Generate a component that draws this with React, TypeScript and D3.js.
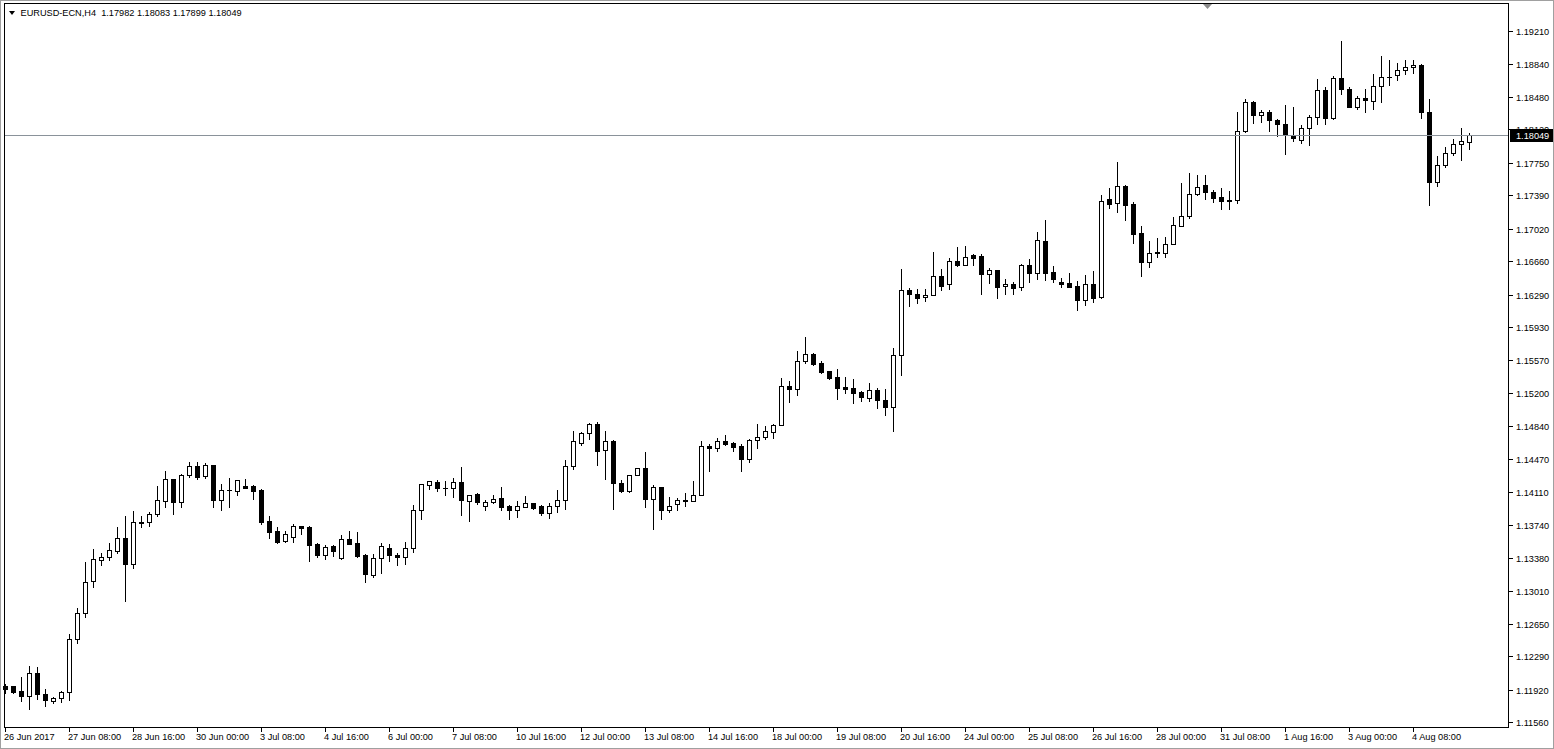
import React from 'react';
import * as d3 from 'd3';

const TITLE = 'EURUSD-ECN,H4  1.17982 1.18083 1.17899 1.18049';
const LAST_PRICE = 1.18049;

const opens = [
1.11962,1.11965,1.11906,1.11848,1.12102,1.11873,1.11799,1.11826,1.11892,1.12478,
1.12765,1.13119,1.13352,1.13385,1.13458,1.13595,1.13307,1.13775,1.13778,1.13860,
1.14011,1.14247,1.14000,1.14291,1.14391,1.14280,1.14402,1.14015,1.14126,1.14115,
1.14170,1.14170,1.14126,1.13783,1.13676,1.13562,1.13606,1.13731,1.13720,1.13528,
1.13413,1.13510,1.13380,1.13584,1.13543,1.13410,1.13189,1.13374,1.13488,1.13410,
1.13385,1.13484,1.13904,1.14188,1.14214,1.14151,1.14148,1.14214,1.14011,1.14081,
1.13955,1.14000,1.14037,1.13952,1.13911,1.13944,1.13982,1.13952,1.13878,1.13949,
1.14015,1.14391,1.14645,1.14756,1.14855,1.14568,1.14667,1.14203,1.14115,1.14291,
1.14369,1.14026,1.14159,1.13904,1.13971,1.14018,1.14004,1.14070,1.14615,1.14590,
1.14667,1.14645,1.14615,1.14475,1.14679,1.14712,1.14767,1.14844,1.15276,1.15249,
1.15552,1.15630,1.15530,1.15442,1.15375,1.15268,1.15257,1.15209,1.15143,1.15231,
1.15121,1.15043,1.15618,1.16337,1.16296,1.16260,1.16282,1.16495,1.16404,1.16658,
1.16614,1.16724,1.16717,1.16521,1.16558,1.16381,1.16404,1.16370,1.16614,1.16532,
1.16882,1.16540,1.16426,1.16415,1.16381,1.16227,1.16404,1.16260,1.17343,1.17299,
1.17487,1.17288,1.16967,1.16647,1.16746,1.16753,1.16846,1.17052,1.17162,1.17405,
1.17498,1.17421,1.17366,1.17321,1.17332,1.18102,1.18416,1.18272,1.18306,1.18220,
1.18173,1.18051,1.17996,1.18129,1.18250,1.18549,1.18246,1.18681,1.18560,1.18361,
1.18460,1.18427,1.18593,1.18693,1.18715,1.18770,1.18803,1.18829,1.18306,1.17538,
1.17723,1.17859,1.17952,1.17982];

const highs = [
1.11995,1.11973,1.12075,1.12194,1.12183,1.11939,1.11851,1.11917,1.12544,1.12832,
1.13344,1.13484,1.13440,1.13551,1.13731,1.13852,1.13908,1.13852,1.13897,1.14184,
1.14350,1.14258,1.14317,1.14450,1.14450,1.14435,1.14413,1.14206,1.14269,1.14240,
1.14258,1.14192,1.14148,1.13852,1.13731,1.13687,1.13767,1.13742,1.13742,1.13554,
1.13528,1.13532,1.13642,1.13687,1.13676,1.13432,1.13432,1.13554,1.13546,1.13447,
1.13565,1.13974,1.14195,1.14240,1.14251,1.14240,1.14273,1.14394,1.14085,1.14107,
1.14026,1.14085,1.14173,1.13974,1.14018,1.14074,1.13993,1.13971,1.13993,1.14140,
1.14472,1.14792,1.14781,1.14881,1.14892,1.14792,1.14690,1.14247,1.14291,1.14383,
1.14557,1.14195,1.14170,1.14059,1.14048,1.14103,1.14236,1.14679,1.14645,1.14712,
1.14748,1.14667,1.14645,1.14701,1.14866,1.14844,1.14866,1.15378,1.15345,1.15677,
1.15832,1.15652,1.15566,1.15456,1.15481,1.15390,1.15371,1.15235,1.15323,1.15271,
1.15257,1.15710,1.16584,1.16374,1.16359,1.16359,1.16772,1.16580,1.16705,1.16827,
1.16835,1.16746,1.16750,1.16595,1.16560,1.16473,1.16443,1.16636,1.16691,1.16993,
1.17126,1.16614,1.16481,1.16536,1.16448,1.16514,1.16562,1.17402,1.17476,1.17764,
1.17509,1.17325,1.17059,1.16890,1.16927,1.16938,1.17159,1.17535,1.17645,1.17623,
1.17620,1.17454,1.17476,1.17450,1.18320,1.18464,1.18442,1.18342,1.18342,1.18243,
1.18394,1.18375,1.18173,1.18287,1.18681,1.18593,1.18715,1.19105,1.18593,1.18494,
1.18571,1.18737,1.18939,1.18892,1.18858,1.18892,1.18892,1.18847,1.18460,1.17830,
1.17930,1.18018,1.18140,1.18083];

const lows = [
1.11884,1.11887,1.11799,1.11704,1.11815,1.11744,1.11777,1.11788,1.11807,1.12434,
1.12728,1.13053,1.13303,1.13358,1.13436,1.12905,1.13270,1.13723,1.13731,1.13845,
1.13944,1.13864,1.13944,1.14269,1.14251,1.14265,1.13944,1.13908,1.13944,1.14077,
1.14148,1.14033,1.13756,1.13602,1.13540,1.13557,1.13551,1.13642,1.13347,1.13391,
1.13366,1.13402,1.13369,1.13528,1.13388,1.13115,1.13170,1.13214,1.13344,1.13296,
1.13307,1.13440,1.13805,1.14143,1.14121,1.14077,1.14055,1.13856,1.13789,1.13971,
1.13911,1.13988,1.13911,1.13811,1.13834,1.13944,1.13922,1.13856,1.13823,1.13889,
1.13922,1.14361,1.14623,1.14696,1.14409,1.14254,1.13916,1.14103,1.14103,1.14291,
1.13944,1.13694,1.13811,1.13882,1.13904,1.13955,1.14004,1.14070,1.14342,1.14564,
1.14630,1.14564,1.14342,1.14442,1.14593,1.14696,1.14707,1.14844,1.15105,1.15183,
1.15537,1.15514,1.15426,1.15356,1.15139,1.15205,1.15094,1.15116,1.15116,1.15039,
1.14955,1.14785,1.15404,1.16167,1.16193,1.16222,1.16282,1.16341,1.16355,1.16609,
1.16614,1.16620,1.16300,1.16421,1.16255,1.16300,1.16300,1.16344,1.16426,1.16465,
1.16454,1.16426,1.16377,1.16377,1.16123,1.16171,1.16211,1.16255,1.17251,1.17206,
1.17118,1.16860,1.16499,1.16592,1.16709,1.16709,1.16846,1.17045,1.17140,1.17394,
1.17343,1.17310,1.17233,1.17233,1.17306,1.18084,1.18191,1.18195,1.18102,1.18047,
1.17848,1.17985,1.17963,1.17941,1.18173,1.18179,1.18228,1.18505,1.18361,1.18339,
1.18306,1.18339,1.18423,1.18604,1.18663,1.18726,1.18737,1.18246,1.17280,1.17494,
1.17704,1.17837,1.17781,1.17899];

const closes = [
1.11928,1.11899,1.11848,1.12102,1.11870,1.11803,1.11826,1.11892,1.12478,1.12765,
1.13108,1.13363,1.13385,1.13462,1.13595,1.13307,1.13772,1.13761,1.13860,1.14015,
1.14247,1.14000,1.14295,1.14391,1.14276,1.14402,1.14022,1.14126,1.14130,1.14236,
1.14154,1.14121,1.13778,1.13668,1.13557,1.13639,1.13728,1.13712,1.13524,1.13413,
1.13499,1.13458,1.13584,1.13535,1.13399,1.13197,1.13374,1.13510,1.13407,1.13385,
1.13488,1.13904,1.14190,1.14225,1.14148,1.14148,1.14214,1.14015,1.14070,1.14000,
1.13993,1.14026,1.13944,1.13911,1.13949,1.13982,1.13933,1.13878,1.13949,1.14015,
1.14391,1.14667,1.14756,1.14855,1.14564,1.14667,1.14203,1.14115,1.14291,1.14369,
1.14026,1.14159,1.13904,1.13955,1.14015,1.14004,1.14070,1.14612,1.14590,1.14667,
1.14641,1.14608,1.14475,1.14682,1.14712,1.14781,1.14844,1.15276,1.15249,1.15552,
1.15633,1.15526,1.15437,1.15371,1.15260,1.15249,1.15205,1.15154,1.15231,1.15121,
1.15043,1.15618,1.16337,1.16300,1.16255,1.16285,1.16495,1.16388,1.16658,1.16620,
1.16702,1.16698,1.16521,1.16558,1.16377,1.16404,1.16366,1.16614,1.16532,1.16890,
1.16532,1.16465,1.16410,1.16377,1.16227,1.16404,1.16255,1.17328,1.17295,1.17487,
1.17284,1.16963,1.16645,1.16746,1.16757,1.16846,1.17056,1.17156,1.17405,1.17476,
1.17421,1.17361,1.17321,1.17339,1.18102,1.18416,1.18272,1.18309,1.18220,1.18173,
1.18051,1.18018,1.18129,1.18250,1.18549,1.18246,1.18681,1.18560,1.18361,1.18460,
1.18438,1.18593,1.18693,1.18697,1.18770,1.18803,1.18829,1.18306,1.17538,1.17726,
1.17859,1.17952,1.17985,1.18049];

const yTickValues = [
1.19210,1.18840,1.18480,1.18120,1.17750,1.17390,1.17020,1.16660,1.16290,1.15930,
1.15570,1.15200,1.14840,1.14470,1.14110,1.13740,1.13380,1.13010,1.12650,1.12290,
1.11920,1.11560];

const xLabels = [
'26 Jun 2017','27 Jun 08:00','28 Jun 16:00','30 Jun 00:00','3 Jul 08:00','4 Jul 16:00',
'6 Jul 00:00','7 Jul 08:00','10 Jul 16:00','12 Jul 00:00','13 Jul 08:00','14 Jul 16:00',
'18 Jul 00:00','19 Jul 08:00','20 Jul 16:00','24 Jul 00:00','25 Jul 08:00','26 Jul 16:00',
'28 Jul 00:00','31 Jul 08:00','1 Aug 16:00','3 Aug 00:00','4 Aug 08:00'];
const xLabelBars = [0,8,16,24,32,40,48,56,64,72,80,88,96,104,112,120,128,136,144,152,160,168,176];

const FONT = "'Liberation Sans', Arial, sans-serif";

export default function App() {
  const W = 1554, H = 749;
  const plotL = 4, plotR = 1508, plotT = 3, plotB = 727;
  const n = opens.length;
  const x = d3.scaleLinear().domain([0, n - 1]).range([5, 5 + (n - 1) * 8]);
  const y = d3.scaleLinear().domain([1.11560, 1.19210]).range([722.3, 30.5]);
  const py = (p: number) => Math.round(y(p)) + 0.5;

  const candles = d3.range(n).map((i) => {
    const cx = Math.round(x(i)) + 0.5;
    const o = py(opens[i]), c = py(closes[i]), h = py(highs[i]), l = py(lows[i]);
    const bull = closes[i] >= opens[i];
    const top = Math.min(o, c), bot = Math.max(o, c);
    return (
      <g key={i}>
        <line x1={cx} x2={cx} y1={h} y2={top} stroke="#000" />
        <line x1={cx} x2={cx} y1={bot} y2={l} stroke="#000" />
        {bot - top < 1 ? (
          <line x1={cx - 2.5} x2={cx + 2.5} y1={top} y2={top} stroke="#000" />
        ) : (
          <rect x={cx - 2} y={top} width={4} height={bot - top}
            fill={bull ? '#fff' : '#000'} stroke="#000" />
        )}
      </g>
    );
  });

  const lastY = py(LAST_PRICE);

  return (
    <svg width={W} height={H} style={{ position: 'absolute', left: 0, top: 0, background: '#fff' }}
      shapeRendering="crispEdges" fontFamily={FONT}>
      <rect x={0.5} y={0.5} width={W - 1} height={H - 1} fill="#fff" stroke="#a0a0a0" />
      <rect x={plotL + 0.5} y={plotT + 0.5} width={plotR - plotL} height={plotB - plotT} fill="#fff" stroke="#000" />
      <g>{candles}</g>
      <line x1={plotL + 1} x2={plotR} y1={lastY} y2={lastY} stroke="#8a929a" />
      <polygon points={`1203,${plotT + 1} 1212,${plotT + 1} 1207.5,${plotT + 6}`} fill="#8c8c8c" shapeRendering="auto" />
      {/* title */}
      <polygon points="9,11 15,11 12,15" fill="#000" shapeRendering="auto" />
      <text x={20.5} y={16} fontSize={9.2} fill="#000" style={{ whiteSpace: 'pre' }} xmlSpace="preserve">{TITLE}</text>
      {/* y axis */}
      {yTickValues.map((v) => {
        const ty = py(v);
        return (
          <g key={v}>
            <line x1={plotR + 1} x2={plotR + 5} y1={ty} y2={ty} stroke="#000" />
            <text x={1516} y={ty + 3.3} fontSize={9.2} fill="#000">{v.toFixed(5)}</text>
          </g>
        );
      })}
      <rect x={1510} y={lastY - 6.5} width={43} height={13} fill="#000" />
      <text x={1516} y={lastY + 3.3} fontSize={9.2} fill="#fff">{LAST_PRICE.toFixed(5)}</text>
      {/* x axis */}
      {xLabelBars.map((b, k) => {
        const tx = Math.round(x(b)) + 0.5;
        return (
          <g key={b}>
            <line x1={tx} x2={tx} y1={plotB + 1} y2={plotB + 5} stroke="#000" />
            <text x={tx - 1.5} y={739.5} fontSize={9.2} fill="#000">{xLabels[k]}</text>
          </g>
        );
      })}
    </svg>
  );
}
